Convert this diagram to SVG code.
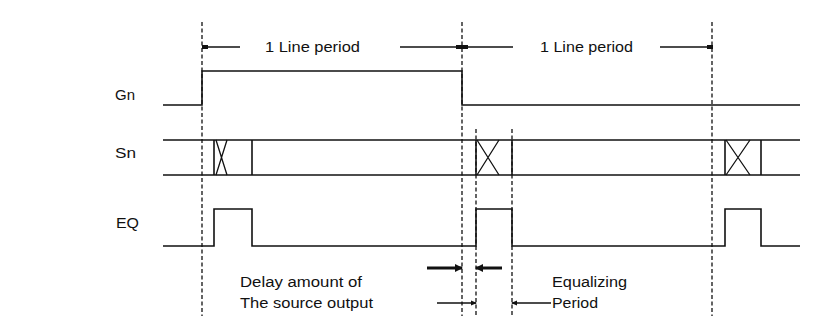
<svg xmlns="http://www.w3.org/2000/svg" width="825" height="336" viewBox="0 0 825 336">
<style>
text{font-family:"Liberation Sans",Arial,sans-serif;font-size:14px;fill:#111}
.sig{fill:none;stroke:#111;stroke-width:1.6}
.dash{fill:none;stroke:#111;stroke-width:1.3;stroke-dasharray:4,2.5}
.thin{fill:none;stroke:#111;stroke-width:1.3}
.thick{fill:none;stroke:#111;stroke-width:3}
</style>
<defs>
<marker id="sq" markerWidth="6" markerHeight="6" refX="5" refY="3" orient="auto" markerUnits="userSpaceOnUse"><rect x="0" y="1" width="6" height="4" fill="#111"/></marker>
<marker id="ah" markerWidth="8" markerHeight="8" refX="7" refY="4" orient="auto" markerUnits="userSpaceOnUse"><path d="M0,0 L8,4 L0,8 Z" fill="#111"/></marker>
<marker id="ahs" markerWidth="6" markerHeight="6" refX="5" refY="3" orient="auto" markerUnits="userSpaceOnUse"><path d="M0,0.5 L6,3 L0,5.5 Z" fill="#111"/></marker>
</defs>
<rect width="825" height="336" fill="#fff"/>
<g id="guides">
<line class="dash" x1="202" y1="22" x2="202" y2="316"/>
<line class="dash" x1="462" y1="22" x2="462" y2="316"/>
<line class="dash" x1="712" y1="22" x2="712" y2="316"/>
<line class="dash" x1="476" y1="129" x2="476" y2="316"/>
<line class="dash" x1="512" y1="129" x2="512" y2="316"/>
</g>
<g id="labels">
<text x="115" y="100" textLength="20" lengthAdjust="spacingAndGlyphs">Gn</text>
<text x="115" y="158" textLength="21" lengthAdjust="spacingAndGlyphs">Sn</text>
<text x="116" y="228" textLength="23" lengthAdjust="spacingAndGlyphs">EQ</text>
</g>
<g id="Gn">
<polyline class="sig" points="163,105 202,105 202,71 462,71 462,105 800,105"/>
</g>
<g id="Sn">
<line class="sig" x1="163" y1="140" x2="800" y2="140"/>
<line class="sig" x1="163" y1="175" x2="800" y2="175"/>
<line class="sig" x1="214" y1="140" x2="214" y2="175" stroke-width="2.5"/>
<path class="thin" d="M216,140 L227,175 M227,140 L216,175"/>
<line class="sig" x1="252" y1="140" x2="252" y2="175"/>
<line class="sig" x1="476" y1="140" x2="476" y2="175"/>
<path class="thin" d="M477,140 L499,175 M499,140 L477,175"/>
<line class="sig" x1="512" y1="140" x2="512" y2="175"/>
<line class="sig" x1="725" y1="140" x2="725" y2="175"/>
<path class="thin" d="M726,140 L750,175 M750,140 L726,175"/>
<line class="sig" x1="761" y1="140" x2="761" y2="175"/>
</g>
<g id="EQ">
<polyline class="sig" points="163,246 214,246 214,209 252,209 252,246 476,246 476,209 512,209 512,246 725,246 725,209 761,209 761,246 800,246"/>
</g>
<g id="period1">
<line class="thin" x1="240" y1="47" x2="203" y2="47" marker-end="url(#sq)"/>
<line class="thin" x1="400" y1="47" x2="461" y2="47" marker-end="url(#sq)"/>
<text x="265" y="52" textLength="95" lengthAdjust="spacingAndGlyphs">1 Line period</text>
</g>
<g id="period2">
<line class="thin" x1="513" y1="47" x2="463" y2="47" marker-end="url(#sq)"/>
<line class="thin" x1="660" y1="47" x2="712" y2="47" marker-end="url(#sq)"/>
<text x="540" y="52" textLength="93" lengthAdjust="spacingAndGlyphs">1 Line period</text>
</g>
<g id="delay">
<line class="thick" x1="427" y1="268" x2="462" y2="268" marker-end="url(#ah)"/>
<line class="thick" x1="502" y1="268" x2="476" y2="268" marker-end="url(#ah)"/>
<line class="thin" x1="437" y1="303" x2="476" y2="303" marker-end="url(#ahs)"/>
<text x="240" y="287" textLength="122" lengthAdjust="spacingAndGlyphs">Delay amount of</text>
<text x="240" y="308" textLength="133" lengthAdjust="spacingAndGlyphs">The source output</text>
</g>
<g id="equalizing">
<line class="thin" x1="551" y1="303" x2="512" y2="303" marker-end="url(#ahs)"/>
<text x="552" y="287" textLength="75" lengthAdjust="spacingAndGlyphs">Equalizing</text>
<text x="552" y="308" textLength="46" lengthAdjust="spacingAndGlyphs">Period</text>
</g>
</svg>
